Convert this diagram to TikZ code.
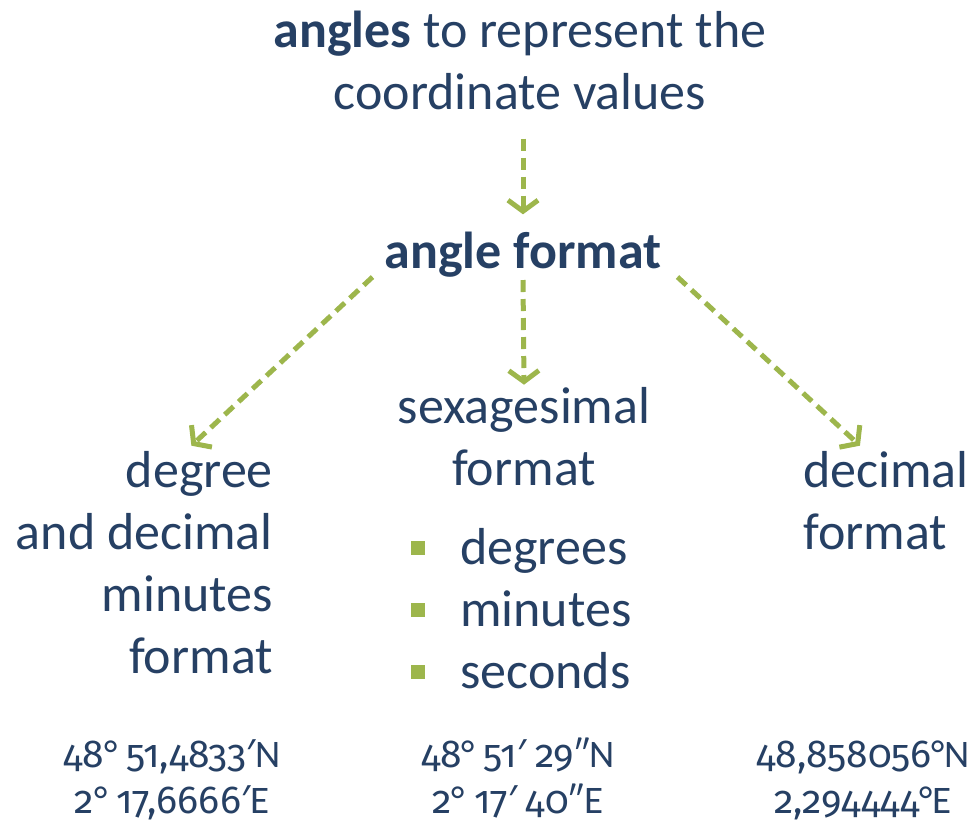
\documentclass[tikz,border=0pt]{standalone}
\usepackage{fontspec}
\setmainfont{Carlito}
\newfontfamily\numfont{Fira Sans}[Numbers=OldStyle,Scale=1.0]
\newfontfamily\primefont{Noto Sans}
\newcommand{\dg}[1]{{\numfont #1}}
\newcommand{\pr}{{\primefont ′}}
\usetikzlibrary{arrows.meta}
\definecolor{navy}{RGB}{38,64,100}
\definecolor{olive}{RGB}{157,182,76}
\tikzset{
  big/.style={font=\fontsize{52}{62}\selectfont, text=navy, inner sep=0pt},
  small/.style={font=\fontsize{39}{46}\selectfont, text=navy, inner sep=0pt, align=center, anchor=base},
  arr/.style={draw=olive, line width=5pt, dash pattern=on 12pt off 7pt,
    -{Straight Barb[length=11pt,width=30pt,line width=5pt]}},
  bullet/.style={fill=olive, minimum size=14pt, inner sep=0pt}
}
\begin{document}
\begin{tikzpicture}[x=1pt,y=-1pt]
\useasboundingbox (0,0) rectangle (976,826);
\node[big, align=center, anchor=base] (t) at (520,110) {\textbf{angles} to represent the\\coordinate values};
\node[big, anchor=base] (af) at (523,268) {\textbf{angle format}};
\node[big, align=center, anchor=base] (sx) at (524,485) {sexagesimal\\format};
\node[big, align=right, anchor=base east] (L) at (273,673) {degree\\and decimal\\minutes\\format};
\node[big, align=left, anchor=base west] (R) at (803,549) {decimal\\format};
\node[big, align=left, anchor=base west] (bl) at (460,688) {degrees\\minutes\\seconds};
\node[bullet] (b1) at (418,548) {};
\node[bullet] (b2) at (418,610) {};
\node[bullet] (b3) at (418,672) {};
\node[small] (c1) at (172,813) {\dg{48}° \dg{51,4833}\pr N\\\dg{2}° \dg{17,6666}\pr E};
\node[small] (c2) at (518,813) {\dg{48}° \dg{51}\pr\ \dg{29}″N\\\dg{2}° \dg{17}\pr\ \dg{40}″E};
\node[small] (c3) at (863,813) {\dg{48,858056}°N\\\dg{2,294444}°E};
\draw[arr] ([yshift=-28pt]t.south -| af.north) -- ([yshift=17pt]af.north);
\draw[arr] ([yshift=-3pt]af.south) -- ([yshift=2pt]sx.north);
\draw[arr] ([xshift=-12pt]af.south west) -- ([xshift=47pt,yshift=5pt]L.north);
\draw[arr] ([xshift=16pt]af.south east) -- ([xshift=-26pt,yshift=5pt]R.north);
\end{tikzpicture}
\end{document}
